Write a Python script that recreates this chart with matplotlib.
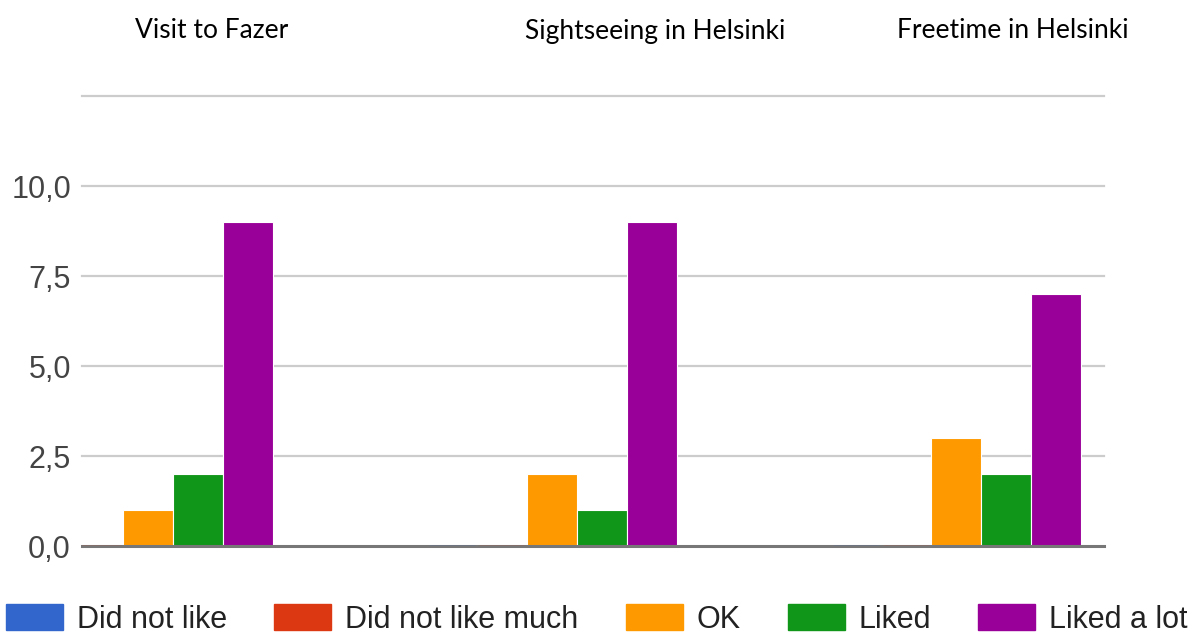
import matplotlib
matplotlib.use("Agg")
import matplotlib.pyplot as plt
from matplotlib.patches import Patch
import numpy as np

categories = ["Visit to Fazer", "Sightseeing in Helsinki", "Freetime in Helsinki"]
series_names = ["Did not like", "Did not like much", "OK", "Liked", "Liked a lot"]
did_not_like = [0, 0, 0]
did_not_like_much = [0, 0, 0]
ok = [1, 2, 3]
liked = [2, 1, 2]
liked_a_lot = [9, 9, 7]
colors = ["#3366cc", "#dc3912", "#ff9900", "#109618", "#990099"]
yticks = [0, 2.5, 5, 7.5, 10]
ytick_labels = ["0,0", "2,5", "5,0", "7,5", "10,0"]

series = [did_not_like, did_not_like_much, ok, liked, liked_a_lot]

W, H = 1192, 633
fig = plt.figure(figsize=(W / 100, H / 100), dpi=100)
ax = fig.add_axes([82 / W, (H - 546) / H, (1104 - 82) / W, (546 - 96) / H])

x = np.arange(len(categories))
bw = 0.124
for i, (vals, c) in enumerate(zip(series, colors)):
    ax.bar(x + (i - 3) * bw, vals, width=bw, color=c, edgecolor="white",
           linewidth=0.8, zorder=3)
    # faint baseline trace for zero-valued bars
    for xi, v in zip(x, vals):
        if v == 0:
            ax.plot([xi + (i - 3) * bw - bw / 2 + 0.005, xi + (i - 3) * bw + bw / 2 - 0.005], [0, 0],
                    color=c, lw=1.0, alpha=0.6, zorder=5, solid_capstyle="butt")

ax.set_xlim(-0.287, 2.243)
ax.set_ylim(0, 12.5)
for s in ax.spines.values():
    s.set_visible(False)
for yv in [2.5, 5, 7.5, 10, 12.5]:
    ax.axhline(yv, color="#cccccc", lw=1.6, zorder=1, clip_on=False)
ax.axhline(0, color="#777777", lw=2.2, zorder=4, clip_on=False)
ax.set_xticks([])
ax.set_yticks(yticks)
ax.set_yticklabels(ytick_labels, fontsize=22, color="#444444", family="Liberation Sans")
ax.tick_params(axis="y", length=0, pad=8)

title_x = [212, 655, 1013]
for t, tx in zip(categories, title_x):
    fig.text(tx / W, 1 - 31 / H, t, ha="center", va="center", fontsize=19,
             family="Lato", color="#000000")

handles = [Patch(facecolor=c, edgecolor=c) for c in colors]
fig.legend(handles, series_names, loc="lower left", bbox_to_anchor=(6 / W, -0.003),
           ncol=5, frameon=False, prop={"family": "Liberation Sans", "size": 22},
           handlelength=1.865, handleheight=0.92, handletextpad=0.46, columnspacing=1.54,
           borderpad=0, borderaxespad=0, labelcolor="#222222")

fig.savefig("out.png", dpi=100, facecolor="white")
